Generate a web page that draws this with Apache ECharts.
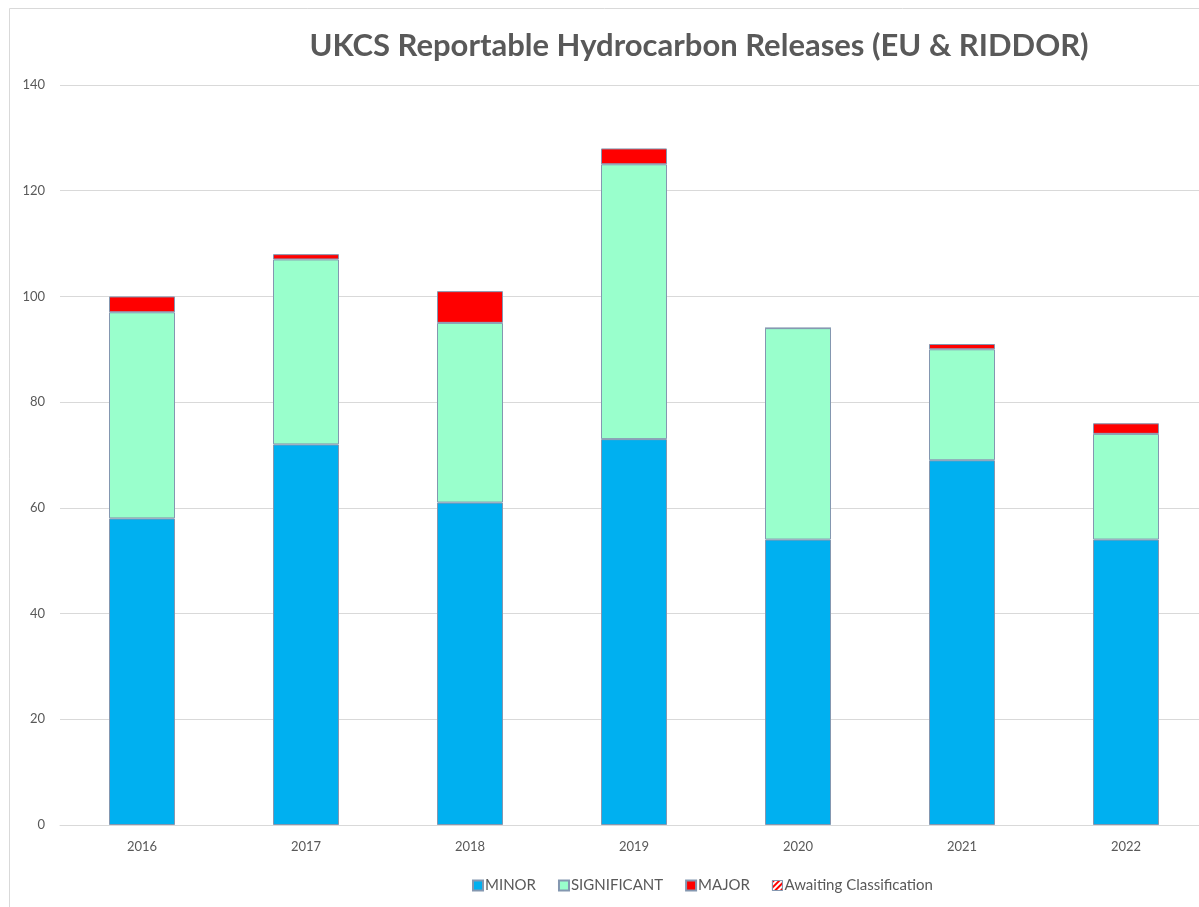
<!DOCTYPE html>
<html>
<head>
<meta charset="utf-8">
<script src="https://cdn.jsdelivr.net/npm/echarts@6/dist/echarts.min.js"></script>
<style>
html,body{margin:0;padding:0;background:#fff;}
#chart{width:1199px;height:907px;}
</style>
</head>
<body>
<div id="chart"></div>
<script>
const years = ['2016','2017','2018','2019','2020','2021','2022'];
const minor = [58, 72, 61, 73, 54, 69, 54];
const significant = [39, 35, 34, 52, 40, 21, 20];
const major = [3, 1, 6, 3, 0, 1, 2];
const awaiting = [0, 0, 0, 0, 0, 0, 0];
const yTicks = [0, 20, 40, 60, 80, 100, 120, 140];

const chart = echarts.init(document.getElementById('chart'));
const txt = '#595959';
const border = {borderColor: '#8497b0', borderWidth: 1};
chart.setOption({
  animation: false,
  backgroundColor: '#fff',
  textStyle: {fontFamily: 'Lato, "Open Sans", sans-serif'},
  graphic: [{
    type: 'rect', left: 7, top: 6, silent: true,
    shape: {width: 1400, height: 1200},
    style: {fill: 'none', stroke: '#d9d9d9', lineWidth: 1}
  }],
  title: {
    text: 'UKCS Reportable Hydrocarbon Releases (EU & RIDDOR)',
    left: 694, top: 25, textAlign: 'center',
    textStyle: {color: txt, fontSize: 31, fontWeight: 'bold', fontFamily: 'Lato, "Open Sans", sans-serif'}
  },
  legend: {
    left: 467, top: 873,
    itemWidth: 10, itemHeight: 10, itemGap: 22,
    icon: 'rect',
    textStyle: {color: txt, fontSize: 15, padding: [0,0,0,-3]},
    data: ['MINOR', 'SIGNIFICANT', 'MAJOR',
      {name: 'Awaiting Classification', itemStyle: {borderColor: '#8497b0', borderWidth: 1}}]
  },
  grid: {left: 60, top: 85, width: 1148, height: 740, outerBoundsMode: 'none', containLabel: false},
  xAxis: {
    type: 'category', data: years,
    axisLine: {lineStyle: {color: '#d9d9d9'}},
    axisTick: {show: false},
    axisLabel: {color: txt, fontSize: 13, margin: 15}
  },
  yAxis: {
    type: 'value', min: 0, max: 140, interval: 20,
    axisLine: {show: false}, axisTick: {show: false},
    axisLabel: {color: txt, fontSize: 13, margin: 15,
      formatter: v => yTicks.includes(v) ? String(v) : ''},
    splitLine: {lineStyle: {color: '#d9d9d9'}}
  },
  series: [
    {name: 'MINOR', type: 'bar', stack: 't', data: minor, barWidth: 66,
     itemStyle: Object.assign({color: '#00B0F0'}, border)},
    {name: 'SIGNIFICANT', type: 'bar', stack: 't', data: significant, barWidth: 66,
     itemStyle: Object.assign({color: '#99FFCC'}, border)},
    {name: 'MAJOR', type: 'bar', stack: 't', data: major, barWidth: 66,
     itemStyle: Object.assign({color: '#FF0000'}, border)},
    {name: 'Awaiting Classification', type: 'bar', stack: 't', data: awaiting, barWidth: 66,
     itemStyle: {color: '#ffffff', borderColor: '#8497b0', borderWidth: 0,
       decal: {symbol: 'rect', color: '#FF0000', dashArrayX: [1, 0], dashArrayY: [2, 2], rotation: -Math.PI/4, symbolSize: 1}}}
  ]
});
</script>
</body>
</html>
